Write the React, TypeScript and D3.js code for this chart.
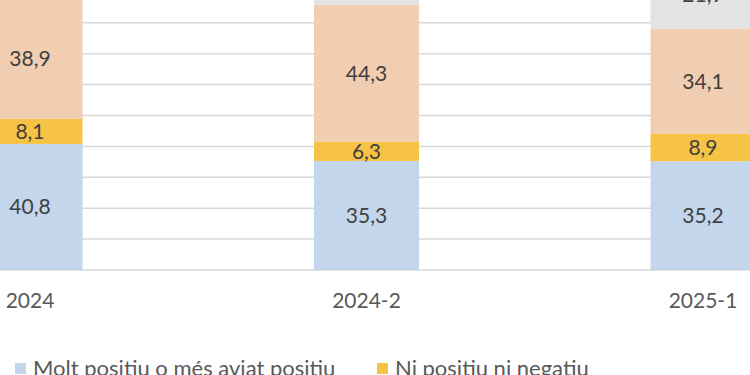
import React, { useEffect, useRef } from "react";
import * as d3 from "d3";

const categories = ["2024", "2024-2", "2025-1"];
const seriesNames = [
  "Molt positiu o més aviat positiu",
  "Ni positiu ni negatiu",
];
const positiu = [40.8, 35.3, 35.2];
const neutre = [8.1, 6.3, 8.9];
const negatiu = [38.9, 44.3, 34.1];
const nsnc = [12.2, 14.1, 21.9];
const gridTicks = [0, 10, 20, 30, 40, 50, 60, 70, 80, 90, 100];

const colors = ["#c3d6ec", "#f6c344", "#f1cdb1", "#e3e3e3"];
const FONT = "Lato, 'Open Sans', sans-serif";

export default function App() {
  const ref = useRef<SVGSVGElement>(null);

  useEffect(() => {
    const svg = d3.select(ref.current);
    svg.selectAll("*").remove();

    const width = 750;
    const baseline = 270;

    // chart is a crop: top of the 0-100 axis sits above the picture
    const y = d3.scaleLinear().domain([0, 100]).range([baseline, baseline - 309]);
    const x = d3.scaleBand()
      .domain(categories)
      .range([-138.25, 871.25])
      .paddingInner(0.688)
      .paddingOuter(0.344);

    // gridlines
    svg.append("g")
      .selectAll("line")
      .data(gridTicks)
      .join("line")
      .attr("x1", 0)
      .attr("x2", width)
      .attr("y1", d => y(d))
      .attr("y2", d => y(d))
      .attr("stroke", "#d9d9d9")
      .attr("stroke-width", 1.5);

    const rows = categories.map((c, i) => ({
      cat: c,
      s0: positiu[i],
      s1: neutre[i],
      s2: negatiu[i],
      s3: nsnc[i],
    }));
    const stack = d3.stack<any>().keys(["s0", "s1", "s2", "s3"]);
    const layers = stack(rows);

    const labelY = (d: any) => (y(d[0]) + y(d[1])) / 2 + 7.5;

    const g = svg.append("g");
    layers.forEach((layer, li) => {
      g.append("g")
        .selectAll("rect")
        .data(layer)
        .join("rect")
        .attr("x", d => x(d.data.cat)!)
        .attr("width", x.bandwidth())
        .attr("y", d => y(d[1]))
        .attr("height", d => y(d[0]) - y(d[1]))
        .attr("fill", colors[li]);

      // only labels that reach into the picture
      g.append("g")
        .selectAll("text")
        .data(layer.filter(d => labelY(d) > 0))
        .join("text")
        .attr("x", d => x(d.data.cat)! + x.bandwidth() / 2)
        .attr("y", labelY)
        .attr("text-anchor", "middle")
        .attr("font-family", FONT)
        .attr("font-size", 21)
        .attr("fill", "#404040")
        .text(d => d3.format(".1f")(d[1] - d[0]).replace(".", ","));
    });

    // x axis labels
    svg.append("g")
      .selectAll("text")
      .data(categories)
      .join("text")
      .attr("x", d => x(d)! + x.bandwidth() / 2)
      .attr("y", 308)
      .attr("text-anchor", "middle")
      .attr("font-family", FONT)
      .attr("font-size", 21)
      .attr("fill", "#595959")
      .text(d => d);

    // legend
    const legend = svg.append("g")
      .selectAll("g")
      .data(seriesNames)
      .join("g")
      .attr("transform", (d, i) => `translate(${15 + i * 362},363)`);
    legend.append("rect")
      .attr("width", 11)
      .attr("height", 11)
      .attr("fill", (d, i) => colors[i]);
    legend.append("text")
      .attr("x", 18)
      .attr("y", 13)
      .attr("font-family", FONT)
      .attr("font-size", 22)
      .attr("fill", "#595959")
      .text(d => d);
  }, []);

  return (
    <svg
      ref={ref}
      width={750}
      height={375}
      style={{ position: "absolute", left: 0, top: 0, overflow: "hidden", background: "#fff" }}
    />
  );
}
